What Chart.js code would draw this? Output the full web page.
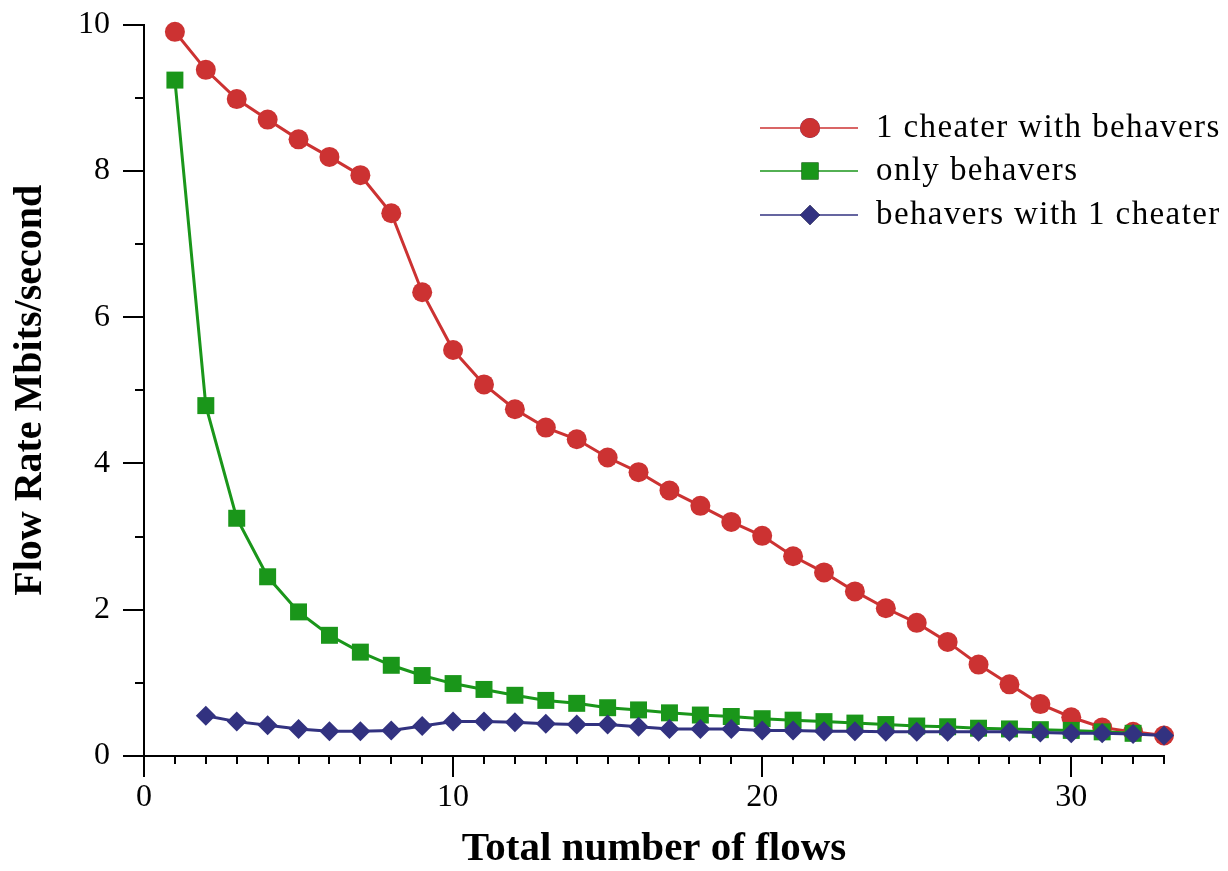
<!DOCTYPE html>
<html>
<head>
<meta charset="utf-8">
<script src="https://cdn.jsdelivr.net/npm/chart.js@4"></script>
<style>
  html, body { margin: 0; padding: 0; background: #fff; }
  #wrap { width: 1228px; height: 871px; }
</style>
</head>
<body>
<div id="wrap"><canvas id="myChart"></canvas></div>
<script>
// flows on the x axis
const flowsCheater = [1,2,3,4,5,6,7,8,9,10,11,12,13,14,15,16,17,18,19,20,21,22,23,24,25,26,27,28,29,30,31,32,33];
const flowsOnly = [1,2,3,4,5,6,7,8,9,10,11,12,13,14,15,16,17,18,19,20,21,22,23,24,25,26,27,28,29,30,31,32];
const flowsBehavers = [2,3,4,5,6,7,8,9,10,11,12,13,14,15,16,17,18,19,20,21,22,23,24,25,26,27,28,29,30,31,32,33];

// flow rate, Mbits/second
const rateCheater = [9.90,9.38,8.98,8.70,8.43,8.19,7.94,7.42,6.34,5.55,5.08,4.74,4.49,4.33,4.08,3.88,3.63,3.42,3.20,3.01,
  2.73,2.51,2.25,2.02,1.82,1.56,1.25,0.98,0.71,0.53,0.39,0.33,0.28];
const rateOnly = [9.24,4.79,3.25,2.45,1.97,1.65,1.42,1.24,1.10,0.99,0.91,0.83,0.76,0.72,0.66,0.63,0.59,0.56,0.54,0.51,
  0.49,0.47,0.45,0.43,0.41,0.40,0.38,0.37,0.36,0.35,0.33,0.31];
const rateBehavers = [0.55,0.47,0.42,0.37,0.34,0.34,0.35,0.41,0.47,0.47,0.46,0.44,0.43,0.43,0.40,0.37,0.37,0.37,0.35,0.35,
  0.34,0.34,0.33,0.33,0.33,0.33,0.33,0.32,0.31,0.31,0.30,0.28];

const labels = ['1 cheater with behavers', 'only behavers', 'behavers with 1 cheater'];
const xTickLabels = [0, 10, 20, 30];
const yTickLabels = [0, 2, 4, 6, 8, 10];

const RED = 'rgb(204,50,50)';
const GREEN = 'rgb(26,150,26)';
const BLUE = 'rgb(50,50,128)';

function toPoints(xs, ys) {
  return xs.map((x, i) => ({ x: x, y: ys[i] }));
}

// little ticks outside the axes, long on labelled values
const axisTicks = {
  id: 'axisTicks',
  afterDraw(chart) {
    const ctx = chart.ctx;
    const xs = chart.scales.x, ys = chart.scales.y;
    const area = chart.chartArea;
    ctx.save();
    ctx.strokeStyle = '#000';
    ctx.lineWidth = 2;
    ctx.beginPath();
    for (let v = 0; v <= 33; v++) {
      const px = Math.round(xs.getPixelForValue(v));
      const len = xTickLabels.includes(v) ? 21 : 8;
      ctx.moveTo(px, area.bottom);
      ctx.lineTo(px, area.bottom + len);
    }
    for (let v = 0; v <= 10; v++) {
      const py = Math.round(ys.getPixelForValue(v));
      const len = yTickLabels.includes(v) ? 21 : 9;
      ctx.moveTo(area.left, py);
      ctx.lineTo(area.left - len, py);
    }
    ctx.stroke();
    ctx.restore();
  }
};

// legend with a line through each marker, top right
const lineLegend = {
  id: 'lineLegend',
  afterDraw(chart) {
    const ctx = chart.ctx;
    const rows = [128, 171, 215];
    ctx.save();
    chart.data.datasets.forEach((ds, i) => {
      const y = rows[i];
      ctx.strokeStyle = ds.borderColor;
      ctx.lineWidth = 1.5;
      ctx.beginPath();
      ctx.moveTo(760, y);
      ctx.lineTo(858, y);
      ctx.stroke();
      Chart.helpers.drawPoint(ctx, {
        pointStyle: ds.pointStyle,
        radius: ds.pointRadius,
        borderWidth: 0
      }, 810, y);
      ctx.fillStyle = ds.backgroundColor;
      ctx.fill();
      ctx.fillStyle = '#000';
      ctx.font = '33px "Liberation Serif"';
      ctx.letterSpacing = '1.4px';
      ctx.textBaseline = 'middle';
      ctx.textAlign = 'left';
      ctx.fillText(ds.label, 876, y);
    });
    ctx.restore();
  }
};

const ctx = document.getElementById('myChart').getContext('2d');
const chart = new Chart(ctx, {
  type: 'line',
  data: {
    datasets: [{
      label: labels[0],
      data: toPoints(flowsCheater, rateCheater),
      borderColor: RED,
      backgroundColor: RED,
      borderWidth: 3,
      pointStyle: 'circle',
      pointRadius: 10,
      pointBorderWidth: 0,
      order: 2,
      clip: false
    }, {
      label: labels[1],
      data: toPoints(flowsOnly, rateOnly),
      borderColor: GREEN,
      backgroundColor: GREEN,
      borderWidth: 3,
      pointStyle: 'rect',
      pointRadius: 12,
      pointBorderWidth: 0,
      order: 1,
      clip: false
    }, {
      label: labels[2],
      data: toPoints(flowsBehavers, rateBehavers),
      borderColor: BLUE,
      backgroundColor: BLUE,
      borderWidth: 3,
      pointStyle: 'rectRot',
      pointRadius: 10,
      pointBorderWidth: 0,
      order: 0,
      clip: false
    }]
  },
  options: {
    responsive: true,
    maintainAspectRatio: false,
    animation: false,
    layout: { padding: { left: 9, top: 24.5, right: 64, bottom: 0 } },
    plugins: {
      legend: { display: false },
      tooltip: { enabled: false }
    },
    scales: {
      x: {
        type: 'linear',
        min: 0,
        max: 33,
        grid: { display: false, drawTicks: false },
        border: { color: '#000', width: 2 },
        ticks: {
          stepSize: 10,
          includeBounds: false,
          autoSkip: false,
          maxRotation: 0,
          padding: 22,
          color: '#000',
          font: { family: '"Liberation Serif"', size: 32 },
          callback: (v) => xTickLabels.includes(v) ? String(v) : ''
        },
        title: {
          display: true,
          text: 'Total number of flows',
          color: '#000',
          padding: { top: 0, bottom: 1 },
          font: { family: '"Liberation Serif"', size: 41, weight: 'bold', lineHeight: 1 }
        },
        afterFit: (scale) => {
          scale.height = 115;
          scale.paddingLeft = 0;
          scale.paddingRight = 0;
        }
      },
      y: {
        type: 'linear',
        min: 0,
        max: 10,
        grid: { display: false, drawTicks: false },
        border: { color: '#000', width: 2 },
        ticks: {
          stepSize: 2,
          padding: 34,
          color: '#000',
          font: { family: '"Liberation Serif"', size: 32 },
          callback: (v) => yTickLabels.includes(v) ? String(v) : ''
        },
        title: {
          display: true,
          text: 'Flow Rate Mbits/second',
          color: '#000',
          padding: { top: 2, bottom: 0 },
          font: { family: '"Liberation Serif"', size: 40, weight: 'bold', lineHeight: 1 }
        },
        afterFit: (scale) => {
          scale.width = 135;
          scale.paddingTop = 0;
          scale.paddingBottom = 0;
        }
      }
    }
  },
  plugins: [axisTicks, lineLegend]
});
</script>
</body>
</html>
